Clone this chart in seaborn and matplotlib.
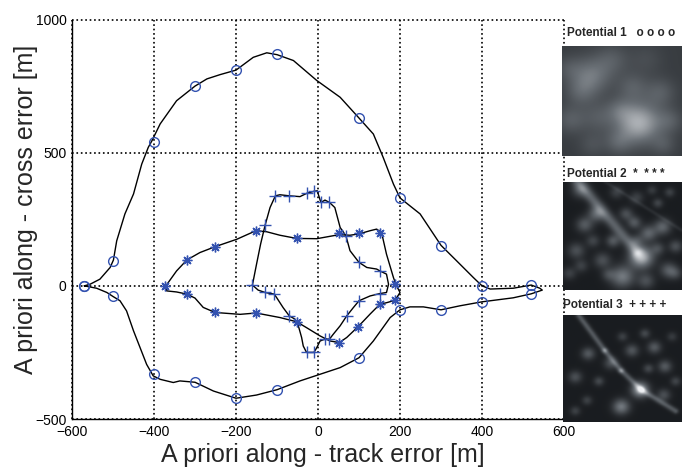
import numpy as np
import matplotlib
matplotlib.use('Agg')
import matplotlib.pyplot as plt
from matplotlib.colors import LinearSegmentedColormap
import seaborn as sns

sns.set_style('white')
plt.rcParams['font.family'] = ['Liberation Sans', 'DejaVu Sans']

# --- trajectory for potential 1 (circles) ---
circ_path_x = [-570, -556, -532, -507, -499, -491, -471, -450, -430, -414, -405, -385, -345, -300, -271, -239,
               -200, -158, -125, -100, -60, -3, 54, 100, 135, 159, 184, 200, 249, 300, 338, 379, 400, 420,
               476, 520, 541, 547, 520, 476, 400, 346, 300, 257, 224, 200, 176, 135, 100, 54, -44, -100,
               -150, -200, -255, -300, -337, -353, -385, -402, -418, -434, -450, -467, -483, -500, -515,
               -540, -570]
circ_path_y = [0, 6, 25, 69, 97, 169, 270, 345, 457, 520, 545, 608, 695, 750, 777, 793,
               810, 858, 875, 868, 846, 771, 708, 630, 570, 482, 382, 330, 270, 152, 94, 31, 0, -12,
               -9, 3, -9, -16, -30, -45, -60, -75, -90, -79, -79, -90, -119, -207, -270, -307, -357, -390,
               -410, -422, -395, -362, -357, -363, -351, -338, -295, -232, -169, -94, -56, -40, -25,
               -9, 0]
circ_x = [-570, -500, -400, -300, -200, -100, 100, 200, 300, 400, 520, 520, 400, 300, 200, 100,
          -100, -200, -300, -400, -500, -570]
circ_y = [0, 95, 540, 750, 810, 870, 630, 330, 150, 0, 5, -30, -60, -90, -90, -270,
          -390, -420, -360, -330, -40, 0]

# --- trajectory for potential 2 (stars) ---
star_path_x = [-372, -345, -320, -288, -251, -198, -166, -151, -125, -93, -52, -3, 51, 78, 100, 127, 143,
               155, 167, 184, 190, 200, 188, 168, 151, 127, 98, 70, 52, 29, 5, -28, -52, -93, -151,
               -190, -251, -280, -300, -320, -345, -369, -372]
star_path_y = [-2, 56, 97, 125, 147, 175, 197, 207, 203, 190, 178, 177, 192, 190, 195, 207, 213,
               200, 119, 31, 5, -25, -54, -63, -69, -106, -153, -194, -213, -207, -188, -157, -135, -119, -102,
               -107, -100, -81, -46, -31, -23, -19, -2]
star_x = [-372, -320, -251, -151, -52, 51, 100, 151, 188, 188, 151, 98, 52, -52, -152, -251, -320]
star_y = [0, 97, 147, 207, 178, 197, 197, 198, 6, -54, -69, -153, -213, -135, -103, -100, -31]

# --- trajectory for potential 3 (plus) ---
plus_path_x = [-160, -150, -140, -129, -117, -104, -93, -70, -44, -28, -10, -2, 7, 17, 28, 41, 54, 68, 78,
               100, 119, 143, 151, 167, 172, 167, 151, 127, 100, 86, 70, 54, 37, 28, 17, 5, -3, -10,
               -28, -36, -40, -48, -56, -70, -85, -101, -107, -129, -146, -160]
plus_path_y = [3, 81, 157, 228, 294, 338, 342, 338, 335, 347, 355, 357, 313, 322, 313, 294, 219, 188, 132,
               88, 69, 63, 56, 44, 6, -25, -29, -38, -56, -82, -113, -150, -182, -200, -200, -207, -232, -250,
               -250, -226, -194, -150, -125, -113, -82, -44, -31, -25, -16, 3]
plus_x = [-160, -129, -104, -70, -28, -10, 7, 28, 68, 100, 151, 151, 100, 70, 28, 17, -10, -28, -70,
          -107, -129]
plus_y = [3, 228, 338, 338, 347, 355, 313, 313, 188, 88, 56, -29, -56, -113, -200, -200, -250, -250, -113,
          -31, -25]

x_ticks = [-600, -400, -200, 0, 200, 400, 600]
y_ticks = [-500, 0, 500, 1000]

# --- potential maps: blobs (x, y, radius, strength) and ridges (x0, y0, x1, y1, width, strength) ---
pot1_base = 0.24
pot1_blobs = [(0.64, 0.70, 0.13, 0.50), (0.24, 0.27, 0.12, 0.28), (0.59, 0.37, 0.09, 0.16),
              (0.82, 0.42, 0.09, 0.16), (0.48, 0.58, 0.08, 0.14), (0.07, 0.67, 0.09, 0.16),
              (0.47, 0.88, 0.08, 0.16), (0.15, 0.42, 0.09, 0.14), (0.42, 0.12, 0.10, 0.14),
              (0.90, 0.68, 0.08, 0.14), (0.70, 0.12, 0.10, 0.08), (0.30, 0.65, 0.10, 0.14),
              (0.85, 0.90, 0.07, 0.12), (0.25, 0.90, 0.08, 0.10), (0.05, 0.20, 0.08, 0.10)]
pot1_ridges = []

pot2_base = 0.08
pot2_blobs = [(0.66, 0.70, 0.07, 0.70), (0.50, 0.88, 0.07, 0.45), (0.28, 0.30, 0.05, 0.35),
              (0.18, 0.40, 0.05, 0.30), (0.11, 0.64, 0.05, 0.25), (0.33, 0.73, 0.05, 0.25),
              (0.72, 0.48, 0.05, 0.35), (0.84, 0.42, 0.05, 0.35), (0.60, 0.38, 0.04, 0.30),
              (0.89, 0.82, 0.05, 0.30), (0.53, 0.30, 0.04, 0.25), (0.70, 0.92, 0.05, 0.25),
              (0.42, 0.55, 0.04, 0.30), (0.80, 0.20, 0.03, 0.20), (0.90, 0.10, 0.03, 0.18),
              (0.14, 0.08, 0.05, 0.25), (0.95, 0.60, 0.04, 0.25), (0.05, 0.85, 0.04, 0.18),
              (0.45, 0.10, 0.04, 0.18), (0.62, 0.15, 0.04, 0.18), (0.75, 0.08, 0.03, 0.15),
              (0.25, 0.55, 0.04, 0.20), (0.15, 0.78, 0.04, 0.18), (0.38, 0.86, 0.04, 0.18),
              (0.62, 0.55, 0.04, 0.22), (0.80, 0.62, 0.04, 0.22), (0.95, 0.85, 0.04, 0.18)]
pot2_ridges = [(0.12, 0.00, 0.62, 0.65, 0.035, 0.35), (0.35, 0.00, 1.00, 0.45, 0.012, 0.08)]

pot3_base = 0.08
pot3_blobs = [(0.65, 0.70, 0.05, 0.65), (0.49, 0.86, 0.05, 0.45), (0.21, 0.36, 0.04, 0.30),
              (0.10, 0.58, 0.04, 0.25), (0.58, 0.33, 0.04, 0.28), (0.77, 0.30, 0.04, 0.30),
              (0.86, 0.48, 0.04, 0.30), (0.69, 0.17, 0.03, 0.22), (0.40, 0.45, 0.04, 0.25),
              (0.30, 0.62, 0.03, 0.22), (0.85, 0.75, 0.04, 0.25), (0.10, 0.90, 0.03, 0.18),
              (0.50, 0.20, 0.03, 0.18), (0.92, 0.20, 0.03, 0.15), (0.20, 0.80, 0.03, 0.18),
              (0.72, 0.50, 0.03, 0.22), (0.95, 0.62, 0.03, 0.20)]
pot3_ridges = [(0.13, 0.00, 0.35, 0.33, 0.018, 0.30), (0.35, 0.33, 0.49, 0.52, 0.018, 0.30),
               (0.49, 0.52, 0.66, 0.70, 0.018, 0.30), (0.66, 0.70, 0.95, 0.90, 0.018, 0.30)]


def potential_map(base, blobs, ridges, n=120):
    yy, xx = np.mgrid[0:1:n * 1j, 0:1:n * 1j]
    img = np.full((n, n), base)
    for bx, by, r, a in blobs:
        img += a * np.exp(-((xx - bx) ** 2 + (yy - by) ** 2) / (2 * r ** 2))
    for x0, y0, x1, y1, w, a in ridges:
        dx, dy = x1 - x0, y1 - y0
        t = np.clip(((xx - x0) * dx + (yy - y0) * dy) / (dx * dx + dy * dy), 0, 1)
        d2 = (xx - x0 - t * dx) ** 2 + (yy - y0 - t * dy) ** 2
        img += a * np.exp(-d2 / (2 * w ** 2))
    return np.clip(img, 0, 1)


pot_cmap = LinearSegmentedColormap.from_list('pot', ['#0b0d10', '#6a7076', '#eef0f3'])

blue = '#3352b0'
fig = plt.figure(figsize=(6.82, 4.69), dpi=100)
ax = fig.add_axes([0.1056, 0.1066, 0.7214, 0.8518])

for px, py in [(circ_path_x, circ_path_y), (star_path_x, star_path_y), (plus_path_x, plus_path_y)]:
    sns.lineplot(x=px, y=py, sort=False, estimator=None, color='black', linewidth=1.0, ax=ax)

ax.plot(circ_x, circ_y, linestyle='none', marker='o', ms=7, mfc='none', mec=blue, mew=1.0)
ax.plot(star_x, star_y, linestyle='none', marker=(8, 2, 0), ms=7, mec=blue, mew=1.0)
ax.plot(plus_x, plus_y, linestyle='none', marker='+', ms=9, mec=blue, mew=1.0)

ax.set_xlim(-600, 600)
ax.set_ylim(-500, 1000)
ax.set_xticks(x_ticks)
ax.set_yticks(y_ticks)
ax.grid(True, linestyle=':', color='black', linewidth=1.2)
for gl in ax.get_xgridlines() + ax.get_ygridlines():
    gl.set_clip_on(False)
ax.spines['top'].set_visible(False)
ax.spines['right'].set_visible(False)
for s in ['left', 'bottom']:
    ax.spines[s].set_color('black')
    ax.spines[s].set_linewidth(1.0)
ax.tick_params(direction='in', length=4, labelsize=10, colors='black', pad=4)
ax.set_xlabel('A priori along - track error [m]', fontsize=18)
ax.set_ylabel('A priori along - cross error [m]', fontsize=18)
ax.xaxis.set_label_coords(0.51, -0.06)
ax.yaxis.set_label_coords(-0.069, 0.524)

# potential maps on the right
panels = [
    ('Potential 1   o o o o', pot1_base, pot1_blobs, pot1_ridges, 562, 46, 156, 567, 33),
    ('Potential 2  *  * * *', pot2_base, pot2_blobs, pot2_ridges, 563, 182, 290, 567, 174),
    ('Potential 3  + + + +', pot3_base, pot3_blobs, pot3_ridges, 563, 315, 422, 563, 305),
]
W, H = 682, 469
for title, base, blobs, ridges, left, top, bottom, tx, ty in panels:
    iax = fig.add_axes([left / W, 1 - bottom / H, (682 - left) / W, (bottom - top) / H])
    iax.imshow(potential_map(base, blobs, ridges), cmap=pot_cmap, vmin=0, vmax=1,
               aspect='auto', interpolation='bilinear')
    iax.axis('off')
    fig.text(tx / W, 1 - ty / H, title, fontsize=8.5, fontweight='bold', va='center', ha='left')

fig.savefig('out.png', dpi=100)
